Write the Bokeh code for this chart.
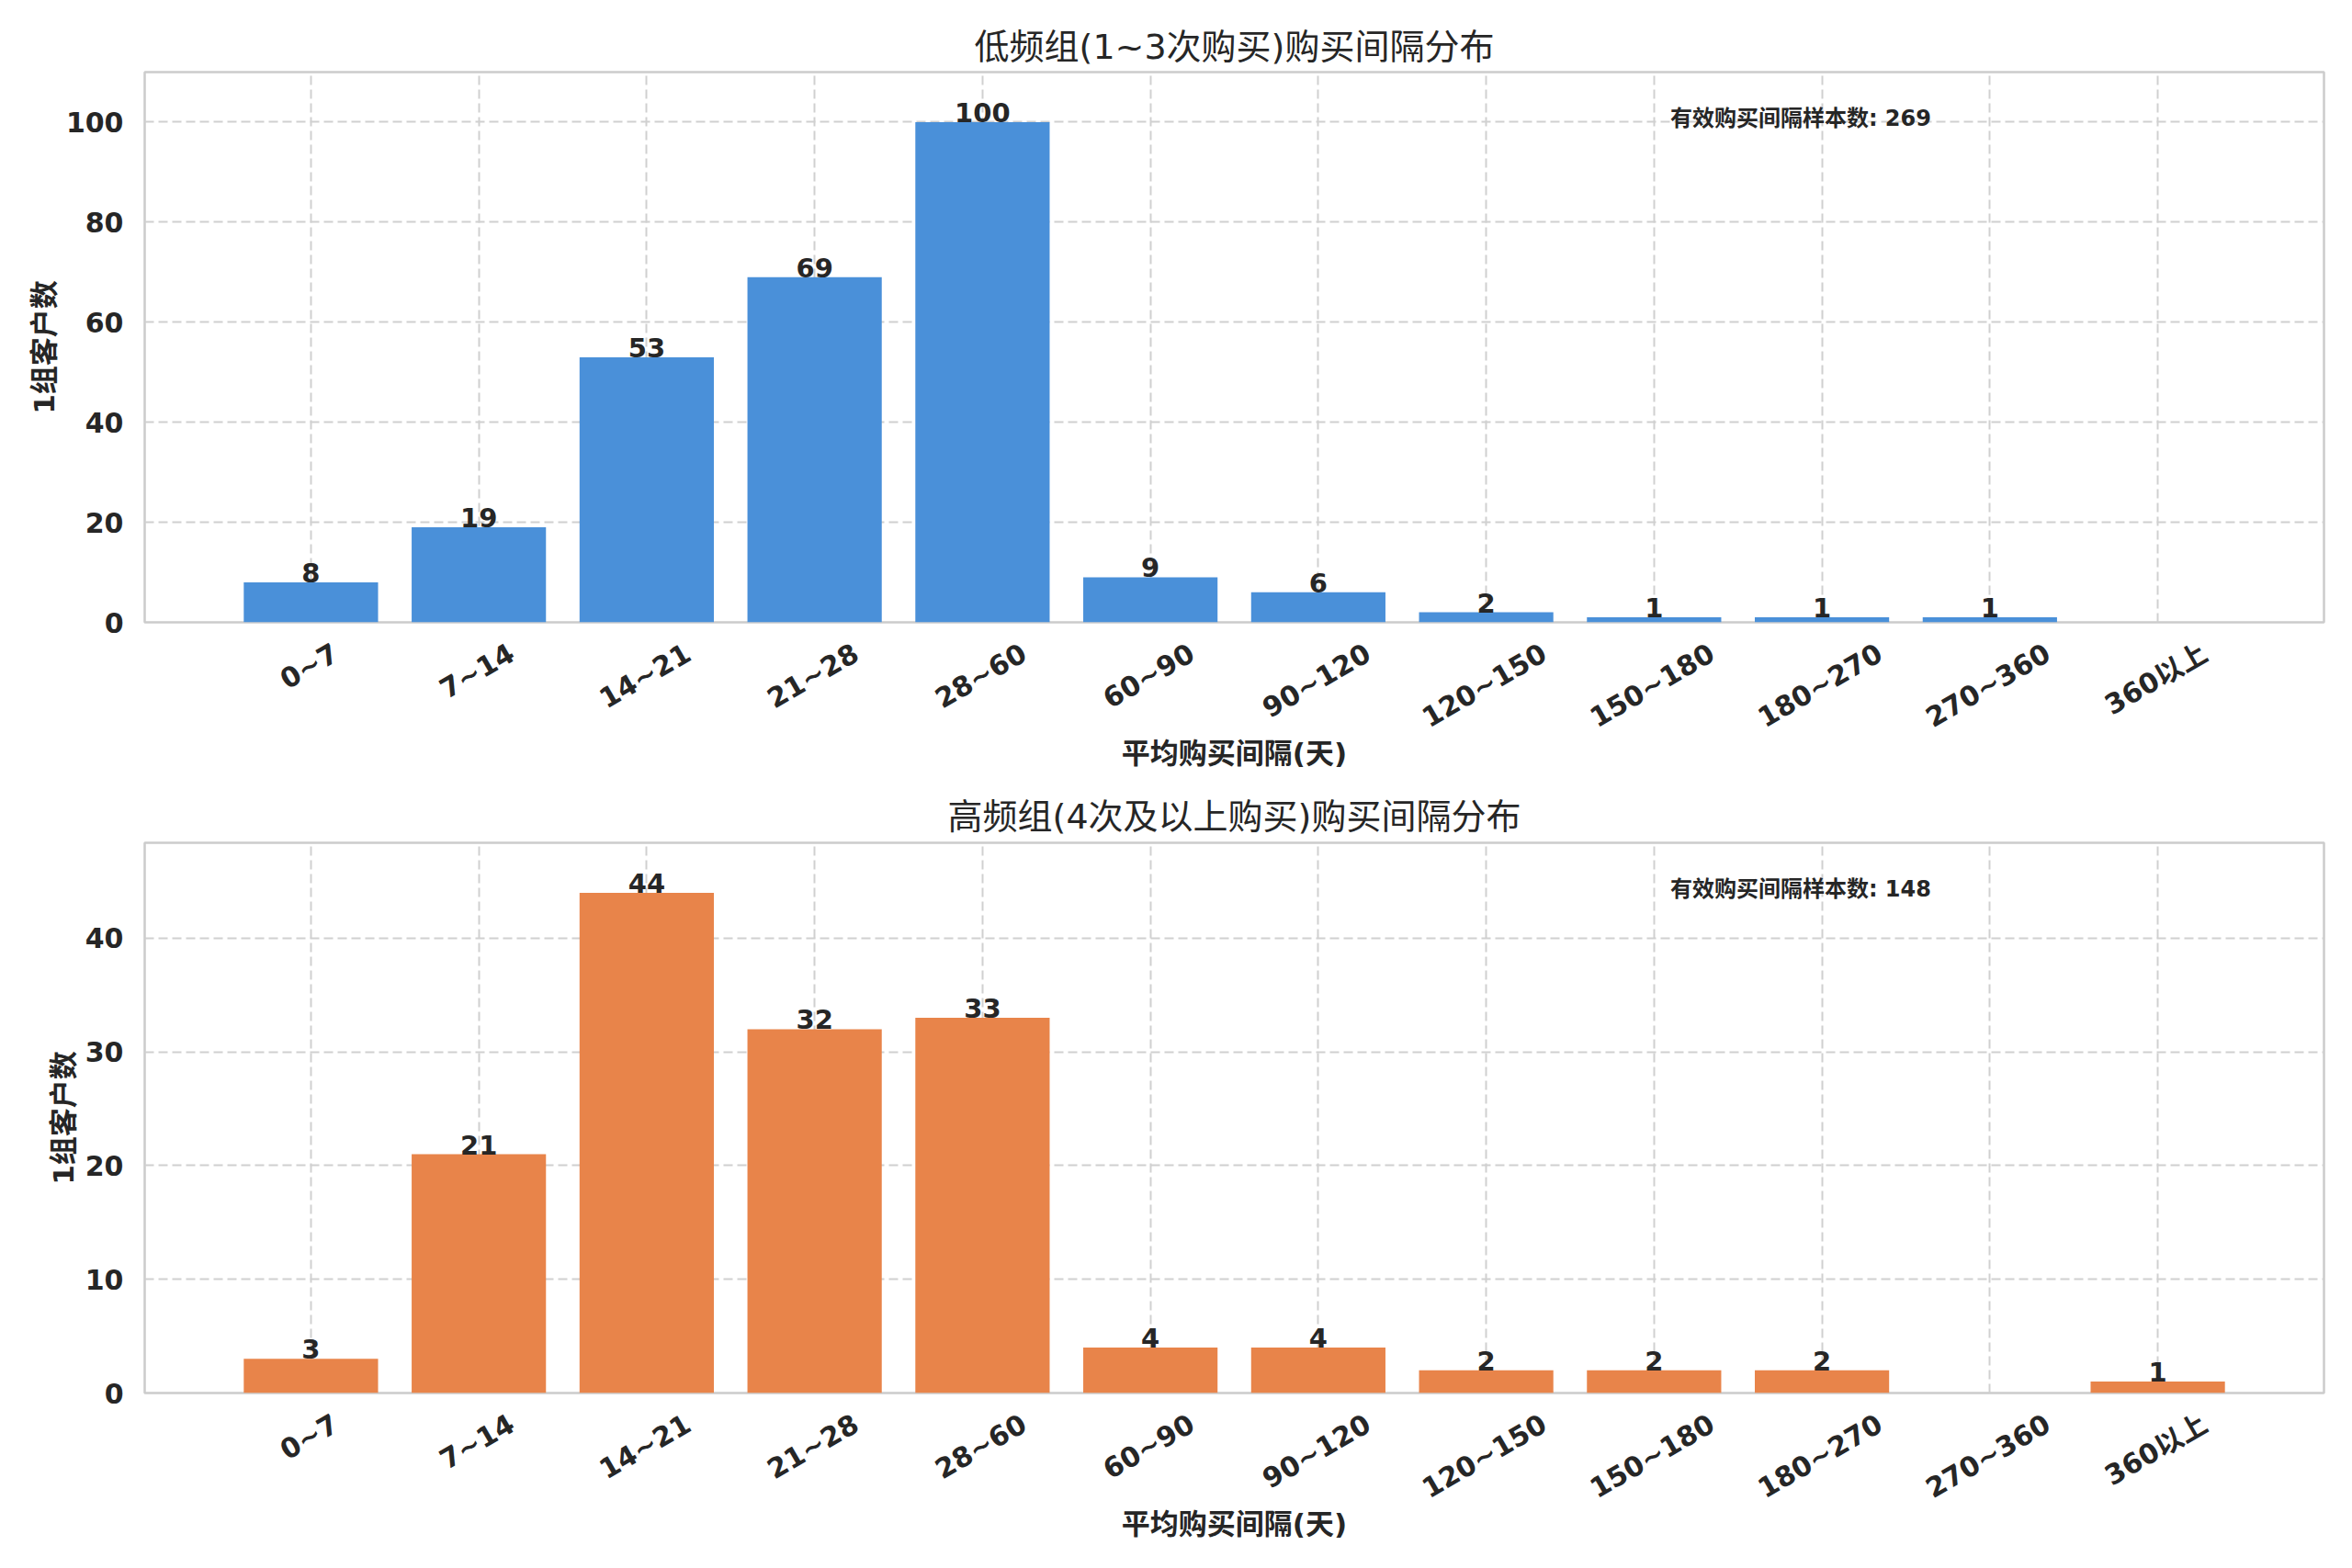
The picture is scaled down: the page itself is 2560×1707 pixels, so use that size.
import math
from bokeh.plotting import figure
from bokeh.layouts import column
from bokeh.models import Range1d, FixedTicker, SingleIntervalTicker, Label, ColumnDataSource
from bokeh.embed import file_html
from bokeh.resources import INLINE
from bokeh.core.properties import value

# ---- data ----
categories = ["0~7", "7~14", "14~21", "21~28", "28~60", "60~90", "90~120",
              "120~150", "150~180", "180~270", "270~360", "360以上"]
low_freq_counts = [8, 19, 53, 69, 100, 9, 6, 2, 1, 1, 1, 0]
high_freq_counts = [3, 21, 44, 32, 33, 4, 4, 2, 2, 2, 0, 1]
titles = ["低频组(1~3次购买)购买间隔分布", "高频组(4次及以上购买)购买间隔分布"]
x_label = "平均购买间隔(天)"
y_label = "1组客户数"
note_prefix = "有效购买间隔样本数"
y_intervals = [20, 10]
colors = ["#4A90D9", "#E8844A"]

FONT = "DejaVu Sans, Noto Sans CJK SC"
TXT = "#262626"
GRID = "#d0d0d0"
TICK_PX = 30
ROT = 30
FIG_W = 2560
BORDER_L, BORDER_R = 157, 31


def est_width(s, px):
    w = 0.0
    for ch in s:
        if ch.isdigit():
            w += 0.696
        elif ch == "~":
            w += 0.838
        elif ord(ch) > 0x2000:
            w += 1.0
        else:
            w += 0.6
    return w * px


def make_fig(counts, color, title, interval, height, border_top, border_bottom, title_standoff):
    n = len(categories)
    xs = list(range(n))
    bar_w = 0.8
    pad = 0.05 * ((n - 1) + bar_w)
    x0, x1 = -bar_w / 2 - pad, (n - 1) + bar_w / 2 + pad
    ymax = max(counts) * 1.1
    p = figure(width=FIG_W, height=height, output_backend="svg", toolbar_location=None,
               x_range=Range1d(x0, x1), y_range=Range1d(0, ymax),
               min_border_left=BORDER_L, min_border_right=BORDER_R,
               min_border_top=border_top, min_border_bottom=border_bottom)
    p.background_fill_color = "white"
    p.border_fill_color = "white"
    p.outline_line_color = "#cccccc"
    p.outline_line_width = 2.5

    p.vbar(x=xs, top=counts, width=bar_w, color=color, line_color=None)

    lx = [x for x, c in zip(xs, counts) if c > 0]
    ly = [c for c in counts if c > 0]
    lt = [str(c) for c in counts if c > 0]
    src = ColumnDataSource(dict(x=lx, y=ly, t=lt))
    p.text(x="x", y="y", text="t", source=src, text_align="center",
           text_baseline="bottom", text_font=value(FONT), text_font_style="bold",
           text_font_size="29px", text_color=TXT)

    total = sum(counts)
    p.add_layout(Label(x=x0 + 0.7 * (x1 - x0), y=0.915 * ymax,
                       text=f"{note_prefix}: {total}", text_align="left",
                       text_baseline="middle", text_font=FONT, text_font_style="bold",
                       text_font_size="24px", text_color=TXT))

    p.title.text = title
    p.title.align = "center"
    p.title.text_font = FONT
    p.title.text_font_size = "38px"
    p.title.text_font_style = "normal"
    p.title.text_color = TXT
    p.title.standoff = title_standoff

    p.xgrid[0].ticker = FixedTicker(ticks=xs)
    for g in (p.xgrid, p.ygrid):
        g.grid_line_color = GRID
        g.grid_line_dash = "10 5"
        g.grid_line_width = 2

    # Bokeh right-aligns rotated labels at the tick; shift the label anchors so
    # each rotated label is centred under its bar (as in the original).
    px_per_unit = (FIG_W - BORDER_L - BORDER_R) / (x1 - x0)
    c = math.cos(math.radians(ROT))
    shifted = []
    overrides = {}
    for i, cat in enumerate(categories):
        w = est_width(cat, TICK_PX)
        dx = round((w * c / 2 - 2) / px_per_unit, 3)
        t = round(i + dx, 3)
        shifted.append(t)
        overrides[t] = cat

    xa = p.xaxis[0]
    xa.ticker = FixedTicker(ticks=shifted)
    xa.major_label_overrides = overrides
    xa.major_label_orientation = math.radians(ROT)
    xa.axis_label = x_label
    xa.major_label_standoff = 25
    xa.axis_label_standoff = -15

    ya = p.yaxis[0]
    ya.ticker = SingleIntervalTicker(interval=interval)
    ya.axis_label = y_label
    ya.major_label_standoff = 17
    ya.axis_label_standoff = 3

    for ax in (xa, ya):
        ax.axis_line_color = None
        ax.major_tick_line_color = None
        ax.minor_tick_line_color = None
        ax.major_label_text_font = FONT
        ax.major_label_text_font_style = "bold"
        ax.major_label_text_font_size = f"{TICK_PX}px"
        ax.major_label_text_color = TXT
        ax.axis_label_text_font = FONT
        ax.axis_label_text_font_style = "bold"
        ax.axis_label_text_font_size = "31px"
        ax.axis_label_text_color = TXT
    return p


p1 = make_fig(low_freq_counts, colors[0], titles[0], y_intervals[0], 850, 78, 173, 11)
p2 = make_fig(high_freq_counts, colors[1], titles[1], y_intervals[1], 857, 67, 191, 13)
layout = column(p1, p2, spacing=0)

open("out.html", "w").write(file_html(layout, INLINE))
